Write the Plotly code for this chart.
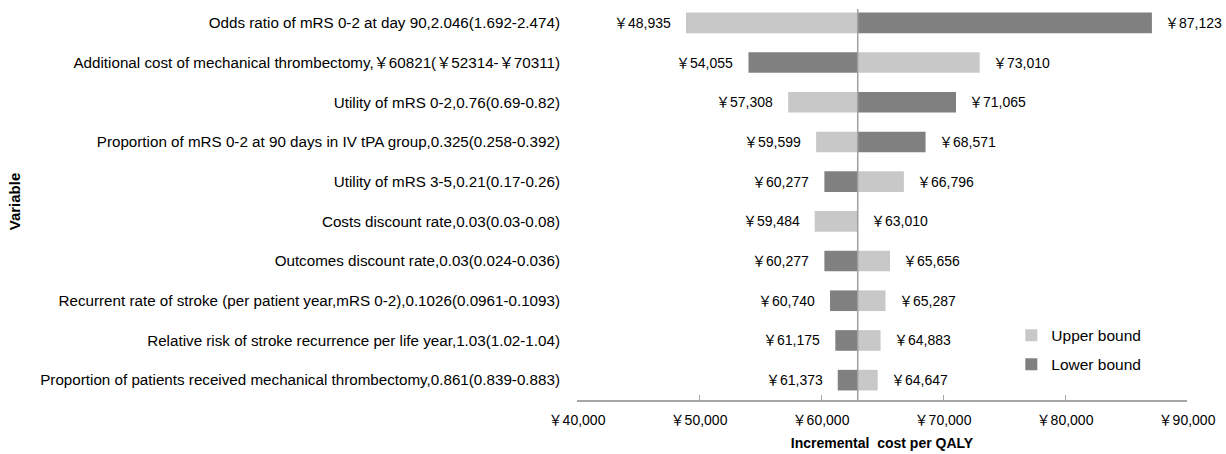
import plotly.graph_objects as go

variables = [
    "Odds ratio of mRS 0-2 at day 90,2.046(1.692-2.474)",
    "Additional cost of mechanical thrombectomy,￥60821(￥52314-￥70311)",
    "Utility of mRS 0-2,0.76(0.69-0.82)",
    "Proportion of mRS 0-2 at 90 days in IV tPA group,0.325(0.258-0.392)",
    "Utility of mRS 3-5,0.21(0.17-0.26)",
    "Costs discount rate,0.03(0.03-0.08)",
    "Outcomes discount rate,0.03(0.024-0.036)",
    "Recurrent rate of stroke (per patient year,mRS 0-2),0.1026(0.0961-0.1093)",
    "Relative risk of stroke recurrence per life year,1.03(1.02-1.04)",
    "Proportion of patients received mechanical thrombectomy,0.861(0.839-0.883)",
]
base_icer = 63010
lower_vals = [87123, 54055, 71065, 68571, 60277, 63010, 60277, 60740, 61175, 61373]
upper_vals = [48935, 73010, 57308, 59599, 66796, 59484, 65656, 65287, 64883, 64647]
x_ticks = [40000, 50000, 60000, 70000, 80000, 90000]
x_ticklabels = ["￥{:,}".format(v) for v in x_ticks]

LIGHT = "#c8c8c8"
DARK = "#808080"
FONT = "Liberation Sans, Noto Sans CJK SC, sans-serif"

fig = go.Figure()
fig.add_trace(go.Bar(
    name="Upper bound", orientation="h", y=variables, legendgroup="u",
    x=[v - base_icer for v in upper_vals], base=base_icer,
    marker=dict(color=LIGHT, line=dict(width=0)), width=0.52,
))
fig.add_trace(go.Bar(
    name="Lower bound", orientation="h", y=variables, legendgroup="l",
    x=[v - base_icer for v in lower_vals], base=base_icer,
    marker=dict(color=DARK, line=dict(width=0)), width=0.52,
))

annotations = []
for var, lo, up in zip(variables, lower_vals, upper_vals):
    for v in (lo, up):
        right = v >= base_icer
        if v == base_icer:
            right = not (up > base_icer)
        annotations.append(dict(
            x=v, y=var, xref="x", yref="y",
            text="￥{:,}".format(v), showarrow=False,
            xanchor="left" if right else "right",
            xshift=11 if right else -13,
            font=dict(size=14, color="#000", family=FONT),
        ))

fig.update_layout(
    width=1226, height=454,
    margin=dict(l=577, r=39, t=3, b=54),
    paper_bgcolor="white", plot_bgcolor="white",
    barmode="overlay",
    font=dict(family=FONT, size=14, color="#000"),
    annotations=annotations,
    shapes=[dict(type="line", xref="x", yref="paper", x0=base_icer, x1=base_icer,
                 y0=0, y1=0.985, line=dict(color="#a0a0a0", width=1.5), layer="above")],
    legend=dict(x=0.712, y=0.205, xanchor="left", yanchor="top",
                bgcolor="rgba(0,0,0,0)", font=dict(size=15.5, family=FONT),
                itemwidth=30, tracegroupgap=6),
    showlegend=True,
)
fig.update_xaxes(
    range=[40000, 90000], tickvals=x_ticks, ticktext=x_ticklabels,
    showgrid=False, zeroline=False, showline=True, linecolor="#a6a6a6", linewidth=1.5,
    ticks="inside", ticklen=5, tickcolor="#a6a6a6", ticklabelstandoff=6,
    tickfont=dict(size=14, family=FONT),
    title=dict(text="<b>Incremental  cost per QALY</b>", font=dict(size=14, family=FONT), standoff=12),
)
fig.update_yaxes(
    autorange="reversed", showgrid=False, zeroline=False, showline=False,
    ticks="", ticklabelstandoff=16,
    tickfont=dict(size=15.2, family=FONT),
    title=dict(text="<b>Variable</b>", font=dict(size=15, family=FONT)),
)

fig.write_html("out.html", config={"displayModeBar": False},
               post_script="document.body.style.margin='0';document.body.style.padding='0';")
